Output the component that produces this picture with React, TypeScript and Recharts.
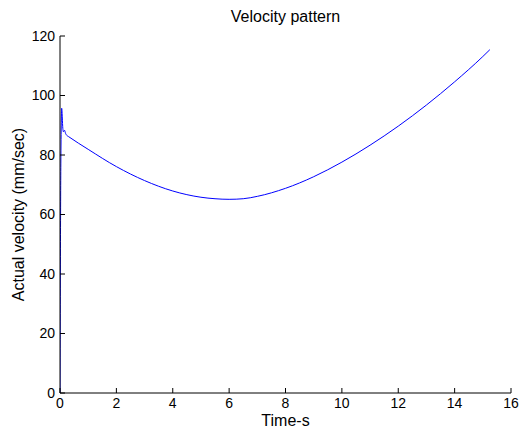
import { LineChart, Line, XAxis, YAxis, Label } from "recharts";

// time in seconds
const timeS = [
  0, 0.03, 0.06, 0.1, 0.12, 0.16, 0.2, 0.24, 0.3, 1, 2, 3, 4, 5, 5.5, 6, 6.5, 7, 8, 9, 10,
  11, 12, 13, 14, 15, 15.25,
];
// actual velocity (mm/sec)
const velocity = [
  0, 77, 95.7, 89, 87.8, 88.3, 87.2, 86.6, 86.2, 81.9, 76.1, 71.4, 67.9, 65.8, 65.3, 65.1,
  65.3, 66.1, 68.8, 72.7, 77.6, 83.3, 89.7, 96.8, 104.6, 113.1, 115.4,
];

const xTicks = [0, 2, 4, 6, 8, 10, 12, 14, 16];
const yTicks = [0, 20, 40, 60, 80, 100, 120];

const data = timeS.map((t, i) => ({ t, v: velocity[i] }));

const font = "'Liberation Sans', Arial, Helvetica, sans-serif";

export default function App() {
  return (
    <div style={{ position: "relative", width: 520, height: 420, fontFamily: font }}>
      <div
        style={{
          position: "absolute",
          top: 0,
          left: 52,
          width: 451,
          textAlign: "center",
          fontSize: 16,
          lineHeight: "18px",
          color: "#000",
        }}
      >
        Velocity pattern
      </div>
      <LineChart
        width={520}
        height={420}
        data={data}
        margin={{ top: 28, right: 17, bottom: 5, left: 12 }}
      >
        <XAxis
          dataKey="t"
          type="number"
          domain={[0, 16]}
          ticks={xTicks}
          allowDataOverflow
          stroke="#000"
          tickSize={-5}
          tickMargin={10}
          height={30}
          tick={{ fill: "#000", fontSize: 14, fontFamily: font }}
        >
          <Label
            value="Time-s"
            position="insideBottom"
            offset={-3}
            style={{ fill: "#000", fontSize: 16, fontFamily: font }}
          />
        </XAxis>
        <YAxis
          type="number"
          domain={[0, 120]}
          ticks={yTicks}
          stroke="#000"
          tickSize={-5}
          tickMargin={10}
          width={40}
          tick={{ fill: "#000", fontSize: 14, fontFamily: font }}
        >
          <Label
            value="Actual velocity (mm/sec)"
            angle={-90}
            position="insideLeft"
            offset={-2}
            style={{ textAnchor: "middle", fill: "#000", fontSize: 16, fontFamily: font }}
          />
        </YAxis>
        <Line
          dataKey="v"
          type="monotoneX"
          stroke="#0000ff"
          strokeWidth={1}
          dot={false}
          isAnimationActive={false}
        />
      </LineChart>
    </div>
  );
}
